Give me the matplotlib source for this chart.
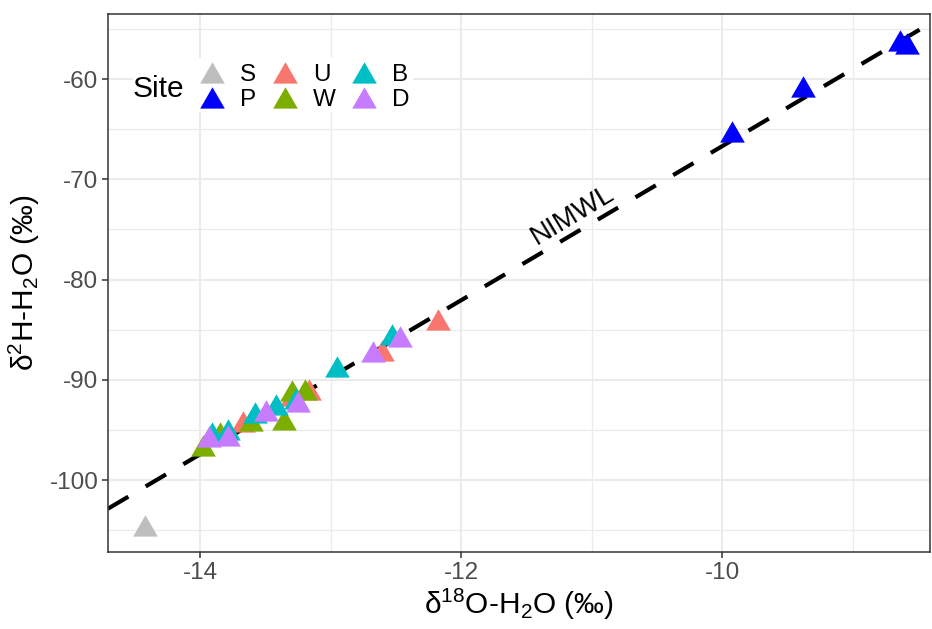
import matplotlib
matplotlib.use('Agg')
import matplotlib.pyplot as plt
from matplotlib.patches import Rectangle
from matplotlib.lines import Line2D

plt.rcParams['font.family'] = ['Liberation Sans', 'DejaVu Sans']
plt.rcParams['mathtext.fontset'] = 'custom'
plt.rcParams['mathtext.rm'] = 'Liberation Sans'
plt.rcParams['mathtext.it'] = 'Liberation Sans:italic'
plt.rcParams['mathtext.bf'] = 'Liberation Sans:bold'
plt.rcParams['lines.scale_dashes'] = False

# [START data]
sites = ['S', 'P', 'U', 'W', 'B', 'D']
colors = ['#BEBEBE', '#0000FF', '#F8766D', '#7CAE00', '#00BFC4', '#C77CFF']

d18O = {
    'S': [-14.42],
    'P': [-9.93, -9.38, -8.64, -8.59],
    'U': [-12.18, -12.61, -13.67, -13.30, -13.17],
    'W': [-13.98, -13.85, -13.61, -13.36, -13.30, -13.20],
    'B': [-12.95, -12.53, -13.27, -13.42, -13.58, -13.79, -13.91],
    'D': [-12.47, -12.68, -13.25, -13.50, -13.79, -13.93],
}
d2H = {
    'S': [-104.85],
    'P': [-65.6, -61.1, -56.5, -56.85],
    'U': [-84.35, -87.4, -94.45, -91.85, -91.3],
    'W': [-96.85, -95.6, -94.35, -94.25, -91.4, -91.35],
    'B': [-89.05, -85.85, -92.15, -92.75, -93.55, -95.25, -95.6],
    'D': [-86.05, -87.55, -92.45, -93.35, -95.85, -95.95],
}

# local meteoric water line
nimwl_slope = 7.68
nimwl_intercept = 10.12

x_ticks = [-14, -12, -10]
x_minor = [-13, -11, -9]
y_ticks = [-100, -90, -80, -70, -60]
y_minor = [-105, -95, -85, -75, -65, -55]
# [END data]

W, H = 932, 629
fig = plt.figure(figsize=(W / 100, H / 100), dpi=100)
L, R, T, B = 108, 930, 14, 552
ax = fig.add_axes([L / W, 1 - B / H, (R - L) / W, (B - T) / H])

ax.set_xlim(-14.707, -8.41)
ax.set_ylim(-107.15, -53.52)

# grid like theme_bw
for v in x_ticks:
    ax.axvline(v, color='#EBEBEB', lw=1.5, zorder=0)
for v in x_minor:
    ax.axvline(v, color='#EBEBEB', lw=0.9, zorder=0)
for v in y_ticks:
    ax.axhline(v, color='#EBEBEB', lw=1.5, zorder=0)
for v in y_minor:
    ax.axhline(v, color='#EBEBEB', lw=0.9, zorder=0)

ax.axline((0, nimwl_intercept), slope=nimwl_slope, color='black', lw=3.0,
          linestyle=(0, (17, 14.5)), dash_capstyle='butt', zorder=2)
ax.text(-11.15, -73.56, 'NIMWL', fontsize=20, rotation=31, ha='center',
        va='center', rotation_mode='anchor', zorder=3)

tri = [(0, 1), (-0.866, -0.5), (0.866, -0.5)]
for site, col in zip(sites, colors):
    ax.scatter(d18O[site], d2H[site], marker=tri, s=20.5 ** 2, color=col,
               linewidths=0, zorder=4)

ax.set_xticks(x_ticks)
ax.set_xticklabels([str(v) for v in x_ticks])
ax.set_yticks(y_ticks)
ax.set_yticklabels([str(v) for v in y_ticks])
ax.tick_params(axis='both', length=4.5, width=1.1, color='#333333',
               labelcolor='#4D4D4D', labelsize=17.5, pad=2.5)
for sp in ax.spines.values():
    sp.set_color('#333333')
    sp.set_linewidth(1.1)

ax.set_xlabel('δ$^{18}$O-H$_{2}$O (‰)', fontsize=21.5, labelpad=2)
ax.set_ylabel('δ$^{2}$H-H$_{2}$O (‰)', fontsize=21.5, labelpad=5)


# legend drawn by hand so the title sits left of the keys
def px(x, y):
    return ((x - L) / (R - L), (B - y) / (B - T))


x0, y0 = px(133, 112)
x1, y1 = px(413, 58)
ax.add_patch(Rectangle((x0, y0), x1 - x0, y1 - y0, transform=ax.transAxes,
                       facecolor='white', edgecolor='none', zorder=5))
ax.text(*px(158, 89), 'Site', transform=ax.transAxes, fontsize=21.5,
        ha='center', va='center', zorder=6)
key_x = [212, 285, 364]
key_y = [75.5, 101]
for i, (site, col) in enumerate(zip(sites, colors)):
    kx, ky = key_x[i // 2], key_y[i % 2]
    ax.add_line(Line2D([px(kx, ky)[0]], [px(kx, ky)[1]], marker=tri,
                       markersize=20.5, color=col, markeredgewidth=0,
                       linestyle='none', transform=ax.transAxes, zorder=6))
    ax.text(*px(kx + 28, ky - 0.5), site, transform=ax.transAxes,
            fontsize=17.5, ha='left', va='center', zorder=6)

fig.savefig('out.png', dpi=100)
